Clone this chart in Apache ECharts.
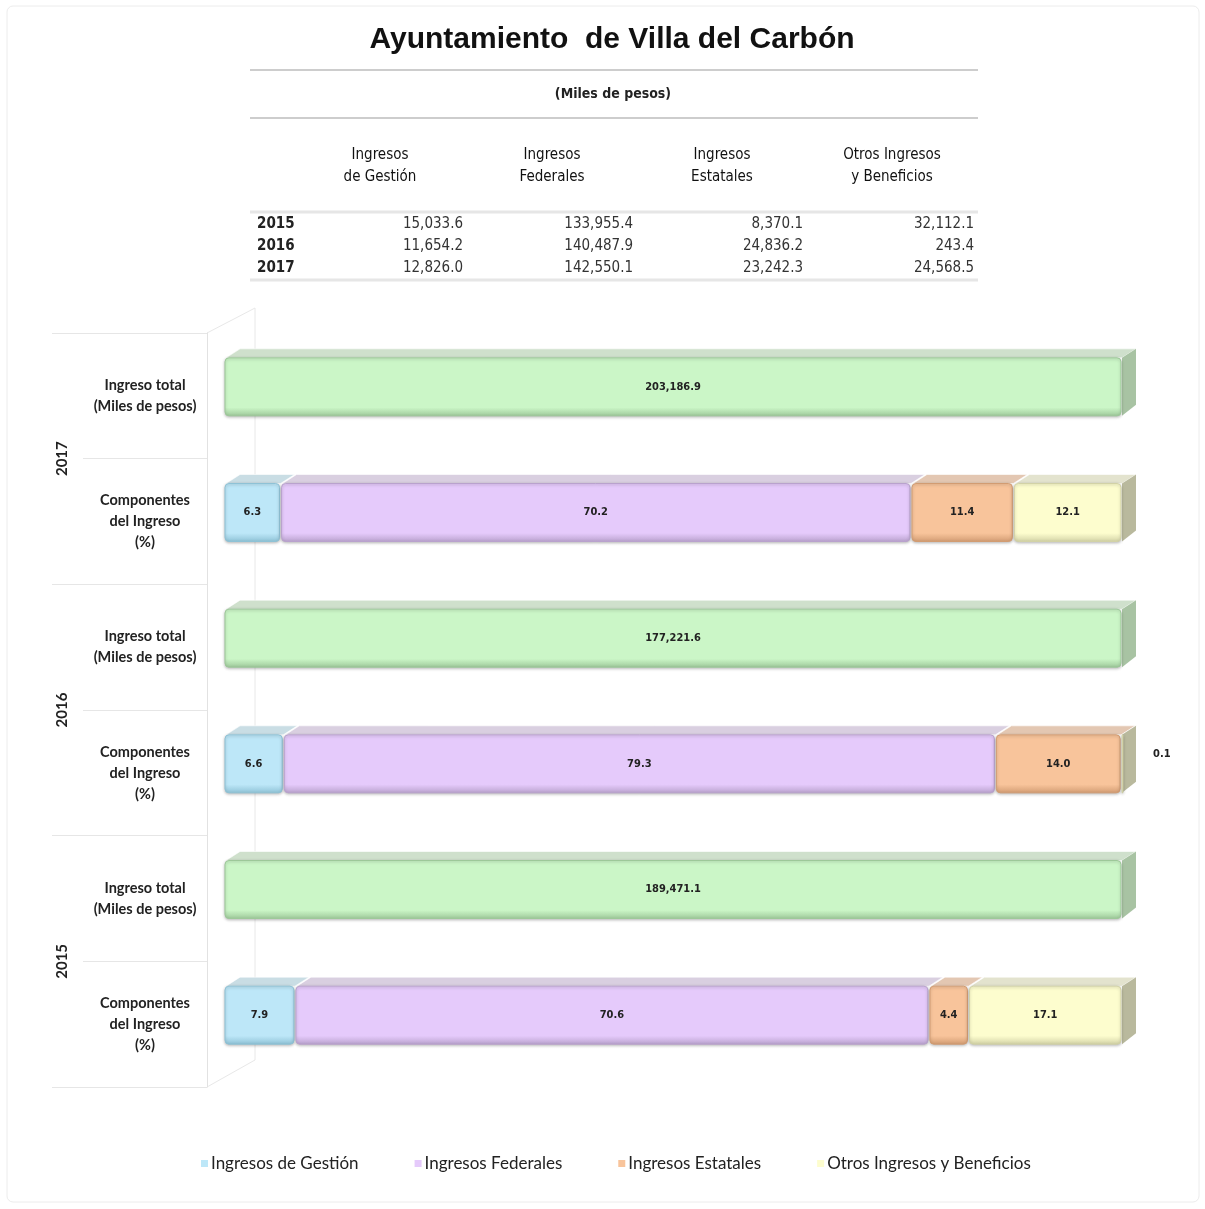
<!DOCTYPE html>
<html><head><meta charset="utf-8">
<script src="https://cdn.jsdelivr.net/npm/echarts@6/dist/echarts.min.js"></script>
<style>html,body{margin:0;padding:0;background:#fff}#c{width:1205px;height:1209px}</style>
</head><body><div id="c"></div>
<script>
// ---------- DATA ----------
const years = ['2015', '2016', '2017'];
const rowLabels = ['Componentes\ndel Ingreso\n(%)', 'Ingreso total\n(Miles de pesos)'];
const seriesNames = ['Ingresos de Gestión', 'Ingresos Federales', 'Ingresos Estatales', 'Otros Ingresos y Beneficios'];
const tableHeaders = ['Ingresos\nde Gestión', 'Ingresos\nFederales', 'Ingresos\nEstatales', 'Otros Ingresos\ny Beneficios'];
// table (Miles de pesos), per year 2015, 2016, 2017
const gestionMiles = [15033.6, 11654.2, 12826.0];
const federalesMiles = [133955.4, 140487.9, 142550.1];
const estatalesMiles = [8370.1, 24836.2, 23242.3];
const otrosMiles = [32112.1, 243.4, 24568.5];
// ingreso total (Miles de pesos)
const totalMiles = [189471.1, 177221.6, 203186.9];
const totalShare = [100, 100, 100];
// componentes del ingreso (%)
const gestionPct = [7.9, 6.6, 6.3];
const federalesPct = [70.6, 79.3, 70.2];
const estatalesPct = [4.4, 14.0, 11.4];
const otrosPct = [17.1, 0.1, 12.1];

// ---------- HELPERS ----------
function fmt(n) {
  const s = n.toFixed(1).split('.');
  return s[0].replace(/\B(?=(\d{3})+(?!\d))/g, ',') + '.' + s[1];
}
const NARROW = '"Liberation Sans Narrow","DejaVu Sans Condensed","Liberation Sans",Arial,sans-serif';
const CAL = 'Lato,"Open Sans","Noto Sans",sans-serif';
const DX = 14, DY = 9, BH = 58, SHIFT = -9;

const styles = [
  {front: '#bde7f8', stroke: '#8ec2d6', top: '#c9dde4', side: '#a9c3cc'},
  {front: '#e5cafb', stroke: '#b9a2cd', top: '#d9cfe0', side: '#bcb0c6'},
  {front: '#f8c49b', stroke: '#d29c72', top: '#e3c7b2', side: '#b9b89e'},
  {front: '#fdfdce', stroke: '#d2d2a6', top: '#e3e3ce', side: '#b9b99d'}
];
const totalStyle = {front: '#cbf6c7', stroke: '#9dc899', top: '#cfe0cc', side: '#a8c3a3'};

function makeRender(st, labelOf, drawSide) {
  return function (params, api) {
    const s = api.value(0), e = api.value(1), c = api.value(2);
    const p0 = api.coord([s, c]), p1 = api.coord([e, c]);
    const x0 = p0[0], x1 = p1[0];
    const yc = p0[1] + SHIFT, top = yc - BH / 2, bot = yc + BH / 2;
    const w = Math.max(x1 - x0 - 2, 0.8);
    const ch = [];
    ch.push({type: 'polygon', shape: {points: [[x0 + 2, top], [x1, top], [x1 + DX, top - DY], [x0 + 2 + DX, top - DY]]},
      style: {fill: st.top, stroke: '#fff', lineWidth: 0.6}});
    if (drawSide(e)) {
      ch.push({type: 'polygon', shape: {points: [[x1, top], [x1 + DX, top - DY], [x1 + DX, bot - DY - 2], [x1, bot]]},
        style: {fill: st.side}});
    }
    ch.push({type: 'rect', shape: {x: x0 + 1, y: top, width: w, height: BH, r: 4},
      style: {fill: {type: 'linear', x: 0, y: 0, x2: 0, y2: 1, colorStops: [{offset: 0, color: st.front}, {offset: 0.85, color: st.front}, {offset: 1, color: st.stroke}]},
        stroke: st.stroke, lineWidth: 1, shadowBlur: 3, shadowColor: 'rgba(0,0,0,0.25)', shadowOffsetY: 1}});
    const lbl = labelOf(params.dataIndex);
    if (x1 - x0 > 12) {
      ch.push({type: 'text', style: {text: lbl, x: (x0 + x1) / 2, y: yc, align: 'center', verticalAlign: 'middle',
        fontFamily: NARROW, fontSize: 11, fontWeight: 'bold', fill: '#222'}});
    } else {
      ch.push({type: 'text', style: {text: lbl, x: x1 + DX + 17, y: yc - 10, align: 'left', verticalAlign: 'middle',
        fontFamily: NARROW, fontSize: 11, fontWeight: 'bold', fill: '#222'}});
    }
    return {type: 'group', children: ch};
  };
}

const pctArrays = [gestionPct, federalesPct, estatalesPct, otrosPct];
const series = [];
series.push({
  name: 'Ingreso total', type: 'custom', coordinateSystem: 'cartesian2d', clip: false,
  itemStyle: {color: totalStyle.front},
  encode: {x: [0, 1], y: 2},
  data: years.map((y, i) => [0, totalShare[i], 2 * i + 1]),
  renderItem: makeRender(totalStyle, i => fmt(totalMiles[i]), e => true)
});
pctArrays.forEach((arr, k) => {
  series.push({
    name: seriesNames[k], type: 'custom', coordinateSystem: 'cartesian2d', clip: false,
    itemStyle: {color: styles[k].front, borderColor: styles[k].stroke},
    encode: {x: [0, 1], y: 2},
    data: years.map((y, i) => {
      let start = 0;
      for (let j = 0; j < k; j++) start += pctArrays[j][i];
      return [start, start + arr[i], 2 * i];
    }),
    renderItem: makeRender(styles[k], i => arr[i].toFixed(1), e => k === pctArrays.length - 1)
  });
});

const rowCats = [];
years.forEach(() => { rowCats.push(rowLabels[0], rowLabels[1]); });

// ---------- TABLE (graphic) ----------
const graphic = [];
graphic.push({type: 'rect', shape: {x: 7, y: 6, width: 1192, height: 1196, r: 6}, style: {fill: 'none', stroke: '#ececec', lineWidth: 1}, silent: true});
graphic.push({type: 'text', style: {text: 'Ayuntamiento  de Villa del Carbón', x: 612, y: 40, align: 'center', verticalAlign: 'middle',
  font: 'bold 30px "Liberation Sans",Arial,sans-serif', fill: '#111'}});
graphic.push({type: 'line', shape: {x1: 250, y1: 70, x2: 978, y2: 70}, style: {stroke: '#cdcdcd', lineWidth: 2}});
graphic.push({type: 'text', style: {text: '(Miles de pesos)', x: 613, y: 94, align: 'center', verticalAlign: 'middle',
  font: 'bold 14px ' + NARROW, fill: '#222'}});
graphic.push({type: 'line', shape: {x1: 250, y1: 118, x2: 978, y2: 118}, style: {stroke: '#cdcdcd', lineWidth: 2}});
const colCenters = [380, 552, 722, 892];
const colRights = [463, 633, 803, 974];
tableHeaders.forEach((h, k) => {
  graphic.push({type: 'text', style: {text: h, x: colCenters[k], y: 166, align: 'center', verticalAlign: 'middle',
    font: '15px ' + NARROW, fill: '#111', lineHeight: 22}});
});
graphic.push({type: 'line', shape: {x1: 250, y1: 212, x2: 978, y2: 212}, style: {stroke: '#e6e6e6', lineWidth: 3}});
graphic.push({type: 'line', shape: {x1: 250, y1: 280, x2: 978, y2: 280}, style: {stroke: '#e6e6e6', lineWidth: 3}});
const tblCols = [gestionMiles, federalesMiles, estatalesMiles, otrosMiles];
years.forEach((y, i) => {
  const yy = 224 + i * 22;
  graphic.push({type: 'text', style: {text: y, x: 257, y: yy, align: 'left', verticalAlign: 'middle', font: 'bold 15px ' + NARROW, fill: '#222'}});
  tblCols.forEach((col, k) => {
    graphic.push({type: 'text', style: {text: fmt(col[i]), x: colRights[k], y: yy, align: 'right', verticalAlign: 'middle', font: '15px ' + NARROW, fill: '#333'}});
  });
});
// back wall faint lines
const wall = '#e8e8e8';
graphic.push({type: 'line', shape: {x1: 207, y1: 333, x2: 255, y2: 308}, style: {stroke: wall, lineWidth: 1}});
graphic.push({type: 'line', shape: {x1: 255, y1: 308, x2: 255, y2: 1060}, style: {stroke: wall, lineWidth: 1}});
graphic.push({type: 'line', shape: {x1: 207, y1: 1087, x2: 255, y2: 1060}, style: {stroke: wall, lineWidth: 1}});

const chart = echarts.init(document.getElementById('c'), null, {renderer: 'canvas'});
chart.setOption({
  backgroundColor: '#fff',
  animation: false,
  graphic: graphic,
  grid: {left: 224, right: 83, top: 333, bottom: 122, containLabel: false},
  xAxis: {type: 'value', min: 0, max: 100, show: false},
  yAxis: [
    {type: 'category', data: rowCats, position: 'left', offset: 17,
      axisLine: {show: true, onZero: false, lineStyle: {color: '#e2e2e2'}},
      axisTick: {show: true, length: 124, lineStyle: {color: '#e6e6e6'}},
      axisLabel: {margin: 62, align: 'center', fontFamily: CAL, fontSize: 14.5, fontWeight: 'bold', color: '#222', lineHeight: 21},
      splitLine: {show: false}},
    {type: 'category', data: years, position: 'left', offset: 17,
      axisLine: {show: false, onZero: false},
      axisTick: {show: true, length: 155, lineStyle: {color: '#e6e6e6'}},
      axisLabel: {rotate: 90, margin: 145, align: 'center', verticalAlign: 'middle', fontFamily: CAL, fontSize: 15, fontWeight: 'bold', color: '#222'},
      splitLine: {show: false}}
  ],
  legend: {data: seriesNames, left: 196, top: 1150, icon: 'rect', itemWidth: 7, itemHeight: 7, itemGap: 56,
    textStyle: {fontFamily: CAL, fontSize: 17, color: '#222', padding: [0, 0, 0, -2]}},
  series: series
});
</script></body></html>
